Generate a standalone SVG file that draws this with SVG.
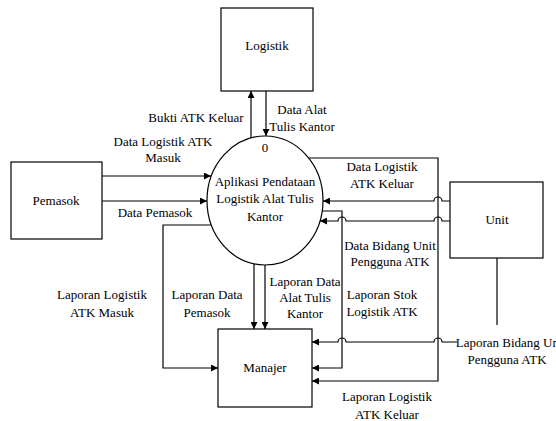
<svg xmlns="http://www.w3.org/2000/svg" width="556" height="421" viewBox="0 0 556 421" font-family="'Liberation Serif', 'Times New Roman', 'DejaVu Serif', serif">
<style>
text{font-family:'Liberation Serif','Times New Roman','DejaVu Serif',serif;font-size:13px;fill:#000;text-anchor:middle}
.box{fill:#fff;stroke:#000;stroke-width:1.2}
.ln{fill:none;stroke:#000;stroke-width:1.2}
</style>
<defs>
<marker id="ah" viewBox="0 0 10 10" refX="10" refY="5" markerWidth="7" markerHeight="7" markerUnits="userSpaceOnUse" orient="auto">
<path d="M0,0 L10,5 L0,10 z" fill="#000"/>
</marker>
</defs>
<rect width="556" height="421" fill="#fff"/>
<g id="connectors">
<path class="ln" marker-end="url(#ah)" d="M251,138 V91"/>
<path class="ln" marker-end="url(#ah)" d="M266,91 V136"/>
<path class="ln" marker-end="url(#ah)" d="M102,176 H211"/>
<path class="ln" marker-end="url(#ah)" d="M102,201 H207"/>
<path class="ln" marker-end="url(#ah)" d="M450,201 H442 A4,4 0 0 0 434,201 H323"/>
<path class="ln" marker-end="url(#ah)" d="M450,221 H442 A4,4 0 0 0 434,221 H346 A4,4 0 0 0 338,221 H320"/>
<path class="ln" marker-end="url(#ah)" d="M309,158 H438 V381 H312"/>
<path class="ln" marker-end="url(#ah)" d="M322,211 H342 V368 H312"/>
<path class="ln" d="M497,258 V325"/>
<path class="ln" marker-end="url(#ah)" d="M457,342 H442 A4,4 0 0 0 434,342 H346 A4,4 0 0 0 338,342 H312"/>
<path class="ln" marker-end="url(#ah)" d="M211,225 H163 V368 H218"/>
<path class="ln" marker-end="url(#ah)" d="M254,264 V329"/>
<path class="ln" marker-end="url(#ah)" d="M265,265 V329"/>
</g>
<g id="logistik">
<rect class="box" x="221" y="8" width="92" height="83"/>
<text x="267" y="50">Logistik</text>
</g>
<g id="pemasok">
<rect class="box" x="11" y="162" width="91" height="77"/>
<text x="56" y="205">Pemasok</text>
</g>
<g id="proses">
<ellipse class="box" cx="265" cy="200.5" rx="58" ry="64.5"/>
<text x="265" y="152">0</text>
<text x="265" y="186">Aplikasi Pendataan</text>
<text x="265" y="203">Logistik Alat Tulis</text>
<text x="265" y="221">Kantor</text>
</g>
<g id="unit">
<rect class="box" x="450" y="182" width="93" height="76"/>
<text x="497" y="224">Unit</text>
</g>
<g id="manajer">
<rect class="box" x="218" y="329" width="94" height="78"/>
<text x="265" y="372">Manajer</text>
</g>
<g id="labels">
<text x="196" y="122">Bukti ATK Keluar</text>
<text x="302" y="114">Data Alat</text>
<text x="302" y="131">Tulis Kantor</text>
<text x="163" y="146">Data Logistik ATK</text>
<text x="163" y="162">Masuk</text>
<text x="155" y="217">Data Pemasok</text>
<text x="382" y="171">Data Logistik</text>
<text x="382" y="188">ATK Keluar</text>
<text x="390" y="250">Data Bidang Unit</text>
<text x="390" y="266">Pengguna ATK</text>
<text x="102" y="299">Laporan Logistik</text>
<text x="102" y="317">ATK Masuk</text>
<text x="207" y="299">Laporan Data</text>
<text x="207" y="317">Pemasok</text>
<text x="305" y="286">Laporan Data</text>
<text x="305" y="302">Alat Tulis</text>
<text x="305" y="318">Kantor</text>
<text x="382" y="299">Laporan Stok</text>
<text x="382" y="316">Logistik ATK</text>
<text x="511" y="347">Laporan Bidang Unit</text>
<text x="507" y="364">Pengguna ATK</text>
<text x="387" y="401">Laporan Logistik</text>
<text x="387" y="419">ATK Keluar</text>
</g>
</svg>
